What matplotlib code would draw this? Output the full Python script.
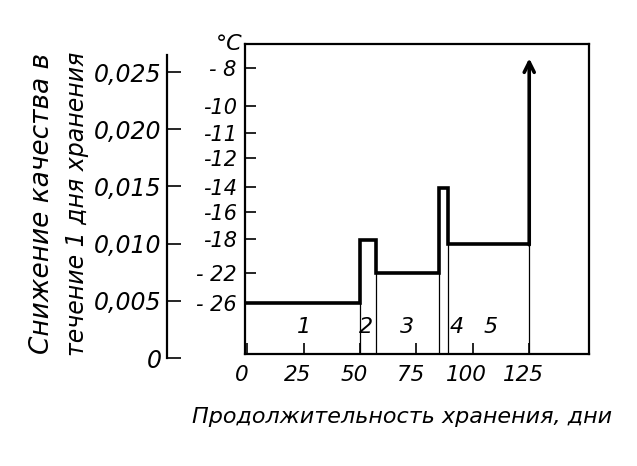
import numpy as np
import matplotlib
matplotlib.use("Agg")
import matplotlib.pyplot as plt
import matplotlib.transforms as mtransforms

plt.rcParams['font.family'] = ['DejaVu Sans']
plt.rcParams['font.style'] = 'italic'

# step curve: storage regimes (days) and quality loss per day
days = [0, 50, 57, 85, 89, 125]
quality = [0.0048, 0.0103, 0.0074, 0.0149, 0.0100, 0.0100]
arrow_top = 0.0262

# temperature labels placed at quality positions
temps = ['- 8', '-10', '-11', '-12', '-14', '-16', '-18', '- 22', '- 26']
temp_pos = [0.02535, 0.02203, 0.01967, 0.01748, 0.01495, 0.01276, 0.0104, 0.00743, 0.00481]

q_ticks = [0, 0.005, 0.010, 0.015, 0.020, 0.025]
q_labels = ['0', '0,005', '0,010', '0,015', '0,020', '0,025']

x_ticks = [0, 25, 50, 75, 100, 125]

seg_labels = ['1', '2', '3', '4', '5']
seg_x = [25, 52.5, 71, 93, 108]
seg_y = 0.0027

fig = plt.figure(figsize=(6.37, 4.66), dpi=100)
W, H = 637, 466

# main box
ax = fig.add_axes([245 / W, (H - 354) / H, (589 - 245) / W, 310 / H])
ax.set_xlim(-1, 151.5)
ax.set_ylim(0.00035, 0.00035 + 0.0271)
for s in ax.spines.values():
    s.set_linewidth(1.6)

ax.step(days, quality, where='post', color='black', lw=2.6, solid_joinstyle='miter')
ax.annotate('', xy=(days[-1], arrow_top), xytext=(days[-1], quality[-1] - 0.0001),
            arrowprops=dict(arrowstyle='->', lw=2.6, color='black',
                            mutation_scale=18, shrinkA=0, shrinkB=0))

# thin drop lines at regime boundaries
drops = [min(quality[i - 1], quality[i]) for i in range(1, len(days) - 1)] + [quality[-1]]
ax.vlines(days[1:], 0.00035, drops, color='black', lw=0.9)

ax.set_yticks(temp_pos)
ax.set_yticklabels(temps, fontsize=15)
ax.tick_params(axis='y', direction='in', length=8, width=1.2, pad=6)
ax.set_xticks(x_ticks)
ax.set_xticklabels([str(v) for v in x_ticks], fontsize=15.5)
ax.tick_params(axis='x', direction='in', length=8, width=1.2, pad=8)
shift = mtransforms.ScaledTranslation(-6 / 100, 0, fig.dpi_scale_trans)
for lab in ax.get_xticklabels():
    lab.set_transform(lab.get_transform() + shift)

for lab, x in zip(seg_labels, seg_x):
    ax.text(x, seg_y, lab, fontsize=16, ha='center', va='center')

fig.text(229 / W, 1 - 44 / H, '°C', fontsize=16, ha='center', va='center')

fig.text(402 / W, 1 - 417 / H, 'Продолжительность хранения, дни',
         fontsize=16, ha='center', va='center')

# outer quality axis
ax2 = fig.add_axes([167 / W, (H - 358) / H, 0.001, 310 / H])
ax2.set_ylim(0, 0.0271)
for side in ['top', 'right', 'bottom']:
    ax2.spines[side].set_visible(False)
ax2.spines['left'].set_linewidth(1.6)
ax2.spines['left'].set_bounds(0, 0.0265)
ax2.set_xticks([])
ax2.set_yticks(q_ticks)
ax2.set_yticklabels(q_labels, fontsize=17)
ax2.tick_params(axis='y', direction='in', length=10, width=1.2, pad=4)
ax2.patch.set_visible(False)

fig.text(42 / W, 1 - 204 / H, 'Снижение качества в', fontsize=19,
         rotation=90, ha='center', va='center')
fig.text(77 / W, 1 - 204 / H, 'течение 1 дня хранения', fontsize=17,
         rotation=90, ha='center', va='center')

fig.savefig('out.png', dpi=100)
